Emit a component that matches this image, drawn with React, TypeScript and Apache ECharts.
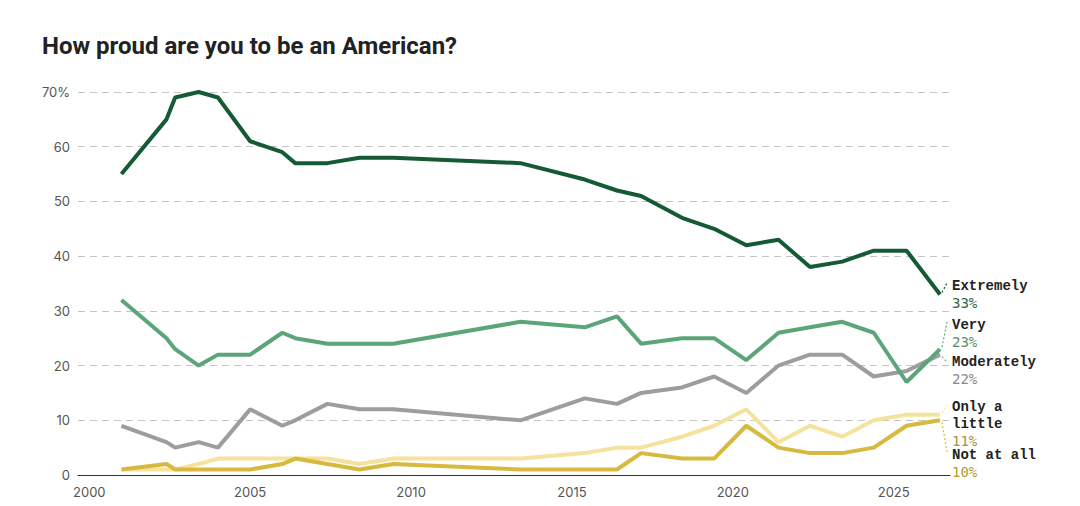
import { useRef, useEffect } from 'react';
import * as echarts from 'echarts';

// Survey dates (fractional years) shared by every series
const surveyDates = [
  2001.0, 2002.4, 2002.67, 2003.4, 2004.0, 2005.0, 2006.0, 2006.4, 2007.4, 2008.4, 2009.45,
  2013.4, 2015.4, 2016.4, 2017.15, 2018.42, 2019.42, 2020.42, 2021.42, 2022.4, 2023.4,
  2024.38, 2025.4, 2026.44,
];

const extremely = [55, 65, 69, 70, 69, 61, 59, 57, 57, 58, 58, 57, 54, 52, 51, 47, 45, 42, 43, 38, 39, 41, 41, 33];
const very = [32, 25, 23, 20, 22, 22, 26, 25, 24, 24, 24, 28, 27, 29, 24, 25, 25, 21, 26, 27, 28, 26, 17, 23];
const moderately = [9, 6, 5, 6, 5, 12, 9, 10, 13, 12, 12, 10, 14, 13, 15, 16, 18, 15, 20, 22, 22, 18, 19, 22];
const onlyALittle = [1, 1, 1, 2, 3, 3, 3, 3, 3, 2, 3, 3, 4, 5, 5, 7, 9, 12, 6, 9, 7, 10, 11, 11];
const notAtAll = [1, 2, 1, 1, 1, 1, 2, 3, 2, 1, 2, 1, 1, 1, 4, 3, 3, 9, 5, 4, 4, 5, 9, 10];

const xTickLabels = [2000, 2005, 2010, 2015, 2020, 2025];
const yTicks = [0, 10, 20, 30, 40, 50, 60, 70];

// drawing order: bottom first
const seriesDefs = [
  { name: 'Only a\nlittle', values: onlyALittle, color: '#f5e29c', pct: '#a39340', labelTop: 398, anchorY: 405 },
  { name: 'Not at all', values: notAtAll, color: '#d6b93e', pct: '#b39d2c', labelTop: 446, anchorY: 452 },
  { name: 'Moderately', values: moderately, color: '#9d9d9d', pct: '#8a8a8a', labelTop: 353, anchorY: 362 },
  { name: 'Very', values: very, color: '#5ca479', pct: '#4f9468', labelTop: 316, anchorY: 322 },
  { name: 'Extremely', values: extremely, color: '#145a35', pct: '#2c6445', labelTop: 277, anchorY: 283 },
];

export default function App() {
  const chartRef = useRef<HTMLDivElement>(null);

  useEffect(() => {
    if (!chartRef.current) return;
    const chart = echarts.init(chartRef.current, undefined, { renderer: 'svg' });

    const option: echarts.EChartsOption = {
      animation: false,
      backgroundColor: '#fff',
      title: {
        text: 'How proud are you to be an American?',
        left: 37,
        top: 29,
        textStyle: {
          fontFamily: 'Roboto',
          fontWeight: 'bold',
          fontSize: 24,
          color: '#222',
        },
      },
      grid: { left: 78, right: 130, top: 92, bottom: 31 },
      xAxis: {
        type: 'value',
        min: 1999.65,
        max: 2026.75,
        splitLine: { show: false },
        axisTick: { show: false },
        axisLine: { show: true, lineStyle: { color: '#333', width: 1 } },
        axisLabel: {
          customValues: xTickLabels,
          color: '#555',
          fontFamily: 'Inter',
          fontSize: 13,
          margin: 10,
          formatter: (v: number) => String(v),
        },
      },
      yAxis: {
        type: 'value',
        min: 0,
        max: 70,
        interval: 10,
        axisLine: { show: false },
        axisTick: { show: false },
        splitLine: { lineStyle: { color: '#c4c4c4', type: [7, 5], width: 1 } },
        axisLabel: {
          color: '#555',
          fontFamily: 'Inter',
          fontSize: 13,
          margin: 8,
          formatter: (v: number) => (v === yTicks[yTicks.length - 1] ? `${v}%` : String(v)),
        },
      },
      series: seriesDefs.map((s) => ({
        name: s.name,
        type: 'line',
        data: s.values.map((v, i) => [surveyDates[i], v]),
        symbol: 'none',
        lineStyle: { color: s.color, width: 4 },
        itemStyle: { color: s.color },
        z: 3,
      })),
    };

    chart.setOption(option);

    // end labels with dotted leader lines
    const graphics: any[] = [];
    seriesDefs.forEach((s) => {
      const last = s.values.length - 1;
      const p = chart.convertToPixel({ gridIndex: 0 }, [surveyDates[last], s.values[last]]) as number[];
      graphics.push({
        type: 'line',
        shape: { x1: p[0] + 2, y1: p[1] + (s.anchorY < p[1] ? -2 : 2), x2: 947, y2: s.anchorY },
        style: { stroke: s.color, lineWidth: 1.2, lineDash: [2, 2] },
        z: 10,
      });
      graphics.push({
        type: 'text',
        x: 952,
        y: s.labelTop,
        style: {
          text: `{n|${s.name.split('\n').join('}\n{n|')}}\n{p|${s.values[last]}%}`,
          rich: {
            n: { fontFamily: 'Liberation Mono', fontWeight: 'bold', fontSize: 14, fill: '#222', lineHeight: 17 },
            p: { fontFamily: 'DejaVu Sans Mono', fontSize: 14, fill: s.pct, lineHeight: 17 },
          },
        },
        z: 10,
      });
    });
    chart.setOption({ graphic: graphics });

    return () => chart.dispose();
  }, []);

  return (
    <div style={{ position: 'fixed', left: 0, top: 0 }}>
      <div ref={chartRef} style={{ width: 1080, height: 506 }} />
    </div>
  );
}
